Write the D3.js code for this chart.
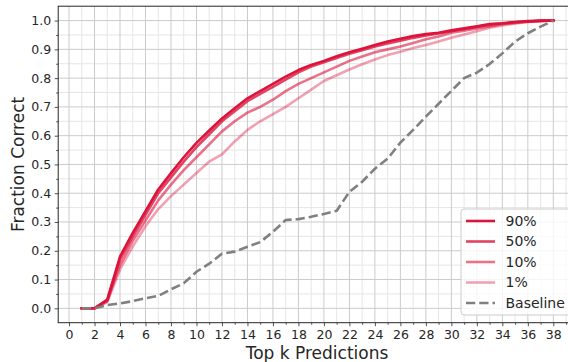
<!DOCTYPE html>
<html><head><meta charset="utf-8">
<script src="https://cdn.jsdelivr.net/npm/d3@7"></script>
<style>body{margin:0;background:#fff}svg{display:block}text{font-family:"DejaVu Sans",sans-serif}</style>
</head><body>
<svg id="c" width="568" height="362"></svg>
<script>
const ks = d3.range(1, 39);
const s90 = [0,0,.03,.18,.262,.338,.413,.47,.525,.575,.618,.66,.695,.73,.755,.78,.805,.828,.846,.86,.876,.89,.902,.915,.927,.937,.946,.953,.958,.966,.973,.98,.988,.991,.995,.998,1,1];
const s50 = [0,0,.028,.17,.25,.325,.40,.455,.51,.56,.605,.65,.685,.72,.745,.77,.795,.82,.84,.855,.87,.885,.897,.91,.92,.93,.94,.948,.955,.963,.97,.978,.985,.99,.994,.997,.999,1];
const s10 = [0,0,.025,.15,.235,.305,.375,.43,.48,.525,.57,.615,.65,.68,.70,.725,.755,.78,.80,.82,.84,.86,.875,.89,.90,.91,.922,.935,.945,.958,.965,.973,.98,.987,.992,.996,.999,1];
const s1  = [0,0,.022,.135,.215,.285,.345,.39,.43,.47,.51,.535,.58,.62,.65,.675,.70,.73,.76,.79,.81,.83,.848,.865,.88,.892,.905,.915,.927,.94,.952,.963,.975,.983,.99,.995,.998,1];
const baseline = [0,0,.011,.017,.025,.035,.043,.066,.087,.127,.155,.19,.197,.214,.23,.266,.307,.31,.318,.328,.339,.405,.44,.485,.52,.576,.62,.666,.711,.756,.80,.819,.849,.886,.927,.956,.979,1];
const seriesNames = ["90%","50%","10%","1%"];
const seriesData = [s90, s50, s10, s1];
const seriesOpacity = [1, 0.8, 0.6, 0.4];
const xTicks = d3.range(0, 39, 2);
const yTicks = d3.range(0, 11).map(d => d/10);

const svg = d3.select("#c");
const x = d3.scaleLinear().domain([-0.85, 39.85]).range([58.2, 576.9]);
const y = d3.scaleLinear().domain([-0.05, 1.05]).range([322.7, 6.2]);
const L = 58.2, R = 576.9, T = 6.2, B = 322.7;
const xMinorVals = d3.range(1, 40, 2);
const yMinorVals = d3.range(0, 10).map(d => d/10 + 0.05);

// grid
const g = svg.append("g");
xMinorVals.forEach(d => {
  g.append("line").attr("x1", x(d)).attr("x2", x(d)).attr("y1", T).attr("y2", B).attr("stroke", "#e6e6e6").attr("stroke-width", 1);
});
yMinorVals.forEach(d => {
  g.append("line").attr("x1", L).attr("x2", R).attr("y1", y(d)).attr("y2", y(d)).attr("stroke", "#e6e6e6").attr("stroke-width", 1);
});
xTicks.forEach(d => {
  g.append("line").attr("x1", x(d)).attr("x2", x(d)).attr("y1", T).attr("y2", B).attr("stroke", "#cbcbcb").attr("stroke-width", 1);
});
yTicks.forEach(d => {
  g.append("line").attr("x1", L).attr("x2", R).attr("y1", y(d)).attr("y2", y(d)).attr("stroke", "#cbcbcb").attr("stroke-width", 1);
});

// lines
const line = d3.line().x((d, i) => x(ks[i])).y(d => y(d));
seriesData.forEach((s, i) => {
  svg.append("path").datum(s).attr("d", line).attr("fill", "none")
    .attr("stroke", "crimson").attr("stroke-opacity", seriesOpacity[i])
    .attr("stroke-width", 2.6).attr("stroke-linecap", "square").attr("stroke-linejoin", "round");
});
svg.append("path").datum(baseline).attr("d", line).attr("fill", "none")
  .attr("stroke", "#808080").attr("stroke-width", 2.6).attr("stroke-dasharray", "9.25,4");

// axes
const xAxis = d3.axisBottom(x).tickValues(xTicks).tickSize(3.5).tickPadding(3.5).tickFormat(d3.format("d"));
const gx = svg.append("g").attr("transform", `translate(0,${B})`).call(xAxis);
const xMinor = d3.axisBottom(x).tickValues(xMinorVals).tickSize(2).tickFormat("");
const gxm = svg.append("g").attr("transform", `translate(0,${B})`).call(xMinor);
const yAxis = d3.axisLeft(y).tickValues(yTicks).tickSize(3.5).tickPadding(3.5).tickFormat(d3.format(".1f"));
const gy = svg.append("g").attr("transform", `translate(${L},0)`).call(yAxis);
const yMinor = d3.axisLeft(y).tickValues(yMinorVals).tickSize(2).tickFormat("");
const gym = svg.append("g").attr("transform", `translate(${L},0)`).call(yMinor);
[gx, gxm, gy, gym].forEach(a => {
  a.select(".domain").remove();
  a.selectAll("line").attr("stroke", "#262626").attr("stroke-width", 0.8);
  a.selectAll("text").attr("fill", "#262626").style("font-size", "12.5px").style("font-family", "DejaVu Sans");
});

// spines
svg.append("rect").attr("x", L).attr("y", T).attr("width", R - L).attr("height", B - T)
  .attr("fill", "none").attr("stroke", "#262626").attr("stroke-width", 1);

// labels
svg.append("text").attr("x", 317).attr("y", 359).attr("text-anchor", "middle")
  .style("font-size", "17px").attr("fill", "#262626").text("Top k Predictions");
svg.append("text").attr("transform", `translate(24,${(T + B) / 2}) rotate(-90)`).attr("text-anchor", "middle")
  .style("font-size", "17px").attr("fill", "#262626").text("Fraction Correct");

// legend
const lg = svg.append("g");
lg.append("rect").attr("x", 461).attr("y", 209).attr("width", 120).attr("height", 106).attr("rx", 3)
  .attr("fill", "#fff").attr("fill-opacity", 0.8).attr("stroke", "#cccccc").attr("stroke-width", 1);
const rowsY = [221, 241.5, 262, 282.5, 303];
seriesNames.forEach((n, i) => {
  lg.append("line").attr("x1", 466).attr("x2", 495).attr("y1", rowsY[i]).attr("y2", rowsY[i])
    .attr("stroke", "crimson").attr("stroke-opacity", seriesOpacity[i]).attr("stroke-width", 2.6);
  lg.append("text").attr("x", 505.5).attr("y", rowsY[i]).attr("dy", "0.35em").style("font-size", "14px").attr("fill", "#262626").text(n);
});
lg.append("line").attr("x1", 466).attr("x2", 495).attr("y1", rowsY[4]).attr("y2", rowsY[4])
  .attr("stroke", "#808080").attr("stroke-width", 2.6).attr("stroke-dasharray", "9.25,4");
lg.append("text").attr("x", 505.5).attr("y", rowsY[4]).attr("dy", "0.35em").style("font-size", "14px").attr("fill", "#262626").text("Baseline");
</script>
</body></html>
